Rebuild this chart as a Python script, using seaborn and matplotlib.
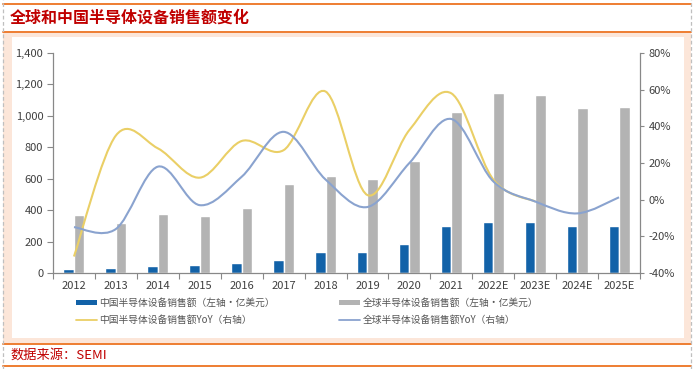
import numpy as np
import pandas as pd
import matplotlib
matplotlib.use("Agg")
import matplotlib.pyplot as plt
import seaborn as sns
from matplotlib.path import Path
from matplotlib.patches import PathPatch, Patch, Rectangle
from matplotlib.lines import Line2D

years = ["2012", "2013", "2014", "2015", "2016", "2017", "2018", "2019",
         "2020", "2021", "2022E", "2023E", "2024E", "2025E"]
china_sales = [25, 33, 43, 49, 65, 82, 131, 135, 187, 296, 325, 325, 300, 302]
global_sales = [369, 318, 375, 365, 412, 566, 620, 598, 710, 1026, 1143, 1135, 1050, 1058]
china_yoy = [-31, 35, 28, 12, 32, 27, 59, 2.5, 38, 58, 11, -1]
global_yoy = [-15, -16, 18, -3, 12.5, 37, 11, -4, 20, 44, 10, -1, -7.5, 1.3]

labels = ["中国半导体设备销售额（左轴·亿美元）", "全球半导体设备销售额（左轴·亿美元）",
          "中国半导体设备销售额YoY（右轴）", "全球半导体设备销售额YoY（右轴）"]
title = "全球和中国半导体设备销售额变化"
source = "数据来源：SEMI"

C_CN = "#1262A8"
C_GL = "#B3B3B3"
C_CNY = "#EACF66"
C_GLY = "#8AA3CF"
ORANGE = "#EE7D31"
PEACH = "#FCE6D9"
RED = "#C00000"

sns.set_theme(style="white")
plt.rcParams["font.family"] = ["Noto Sans CJK SC", "DejaVu Sans"]

W, H = 695, 369
fig = plt.figure(figsize=(W / 100, H / 100), dpi=100)


def fx(x):
    return x / W


def fy(y):
    return 1 - y / H


# frame decorations
fig.add_artist(Rectangle((fx(3), fy(343)), fx(691) - fx(3), fy(33) - fy(343),
                         transform=fig.transFigure, facecolor=PEACH, edgecolor="none", zorder=-5))
fig.add_artist(Rectangle((fx(12), fy(338)), fx(684) - fx(12), fy(37) - fy(338),
                         transform=fig.transFigure, facecolor="white", edgecolor="none", zorder=-4))
for yy in [3.5, 32, 344, 366]:
    fig.add_artist(Line2D([fx(3), fx(691)], [fy(yy), fy(yy)], transform=fig.transFigure,
                          color=ORANGE, lw=1.4, zorder=-3))
for xx in [3, 691]:
    fig.add_artist(Line2D([fx(xx), fx(xx)], [0, 1], transform=fig.transFigure,
                          color="#BFBFBF", lw=0.9, ls=(0, (3, 2)), zorder=-3))

fig.text(fx(10), fy(18), title, color=RED, fontsize=11.5, fontweight="bold",
         ha="left", va="center")
fig.text(fx(10), fy(355), source, color=RED, fontsize=9.5, ha="left", va="center")

ax = fig.add_axes([fx(53), fy(273), fx(640) - fx(53), fy(53) - fy(273)])
ax.patch.set_alpha(0)

df = pd.DataFrame({
    "year": years * 2,
    "series": ["cn"] * len(years) + ["gl"] * len(years),
    "value": china_sales + global_sales,
})
sns.barplot(data=df, x="year", y="value", hue="series", order=years,
            hue_order=["cn", "gl"], palette=[C_CN, C_GL], width=0.5,
            saturation=1, errorbar=None, legend=False, ax=ax)
ax.set_xlim(-0.5, len(years) - 0.5)
ax.set_ylim(0, 1400)
ax.set_yticks(np.arange(0, 1401, 200))
ax.set_yticklabels([f"{v:,}" for v in range(0, 1401, 200)])
ax.set_xlabel("")
ax.set_ylabel("")

spine_c = "#888888"
for s in ["top", "right"]:
    ax.spines[s].set_visible(False)
for s in ["left", "bottom"]:
    ax.spines[s].set_color(spine_c)
    ax.spines[s].set_linewidth(0.9)
ax.tick_params(axis="y", which="major", direction="out", length=4, width=0.8,
               color=spine_c, labelsize=8, labelcolor="#404040", pad=3, left=True)
ax.tick_params(axis="x", which="major", length=0, labelsize=8, labelcolor="#404040", pad=6)
ax.set_xticks(np.arange(-0.5, len(years), 1), minor=True)
ax.tick_params(axis="x", which="minor", direction="out", length=4, width=0.8,
               color=spine_c, bottom=True)

ax2 = ax.twinx()
ax2.set_ylim(-40, 80)
ax2.set_yticks(np.arange(-40, 81, 20))
ax2.set_yticklabels([f"{v}%" for v in range(-40, 81, 20)])
for s in ["top", "left", "bottom"]:
    ax2.spines[s].set_visible(False)
ax2.spines["right"].set_color(spine_c)
ax2.spines["right"].set_linewidth(0.9)
ax2.tick_params(axis="y", direction="out", length=3, width=0.8, color=spine_c,
                labelsize=8, labelcolor="#404040", pad=3, right=True)
ax2.grid(False)
ax.grid(False)


def smooth_path(xs, ys):
    pts = np.column_stack([xs, ys]).astype(float)
    n = len(pts)
    verts = [pts[0]]
    codes = [Path.MOVETO]
    for i in range(n - 1):
        p0 = pts[i - 1] if i > 0 else pts[i]
        p1 = pts[i]
        p2 = pts[i + 1]
        p3 = pts[i + 2] if i + 2 < n else pts[i + 1]
        c1 = p1 + (p2 - p0) / 6.0
        c2 = p2 - (p3 - p1) / 6.0
        verts += [c1, c2, p2]
        codes += [Path.CURVE4] * 3
    return Path(verts, codes)


ax2.add_patch(PathPatch(smooth_path(np.arange(len(china_yoy)), china_yoy),
                        facecolor="none", edgecolor=C_CNY, lw=1.5, zorder=3))
ax2.add_patch(PathPatch(smooth_path(np.arange(len(global_yoy)), global_yoy),
                        facecolor="none", edgecolor=C_GLY, lw=1.5, zorder=4))

h_cn = Patch(facecolor=C_CN, edgecolor="none")
h_gl = Patch(facecolor=C_GL, edgecolor="none")
h_cny = Line2D([], [], color=C_CNY, lw=1.3)
h_gly = Line2D([], [], color=C_GLY, lw=1.3)

leg_kw = dict(frameon=False, fontsize=7, handlelength=2.2, handleheight=0.45,
              handletextpad=0.2, labelspacing=0.75, borderaxespad=0, borderpad=0,
              labelcolor="#555555", loc="upper left")
l1 = fig.legend([h_cn, h_cny], [labels[0], labels[2]],
                bbox_to_anchor=(fx(76), fy(298)), **leg_kw)
l2 = fig.legend([h_gl, h_gly], [labels[1], labels[3]],
                bbox_to_anchor=(fx(339), fy(298)), **leg_kw)

fig.savefig("out.png", dpi=100)
